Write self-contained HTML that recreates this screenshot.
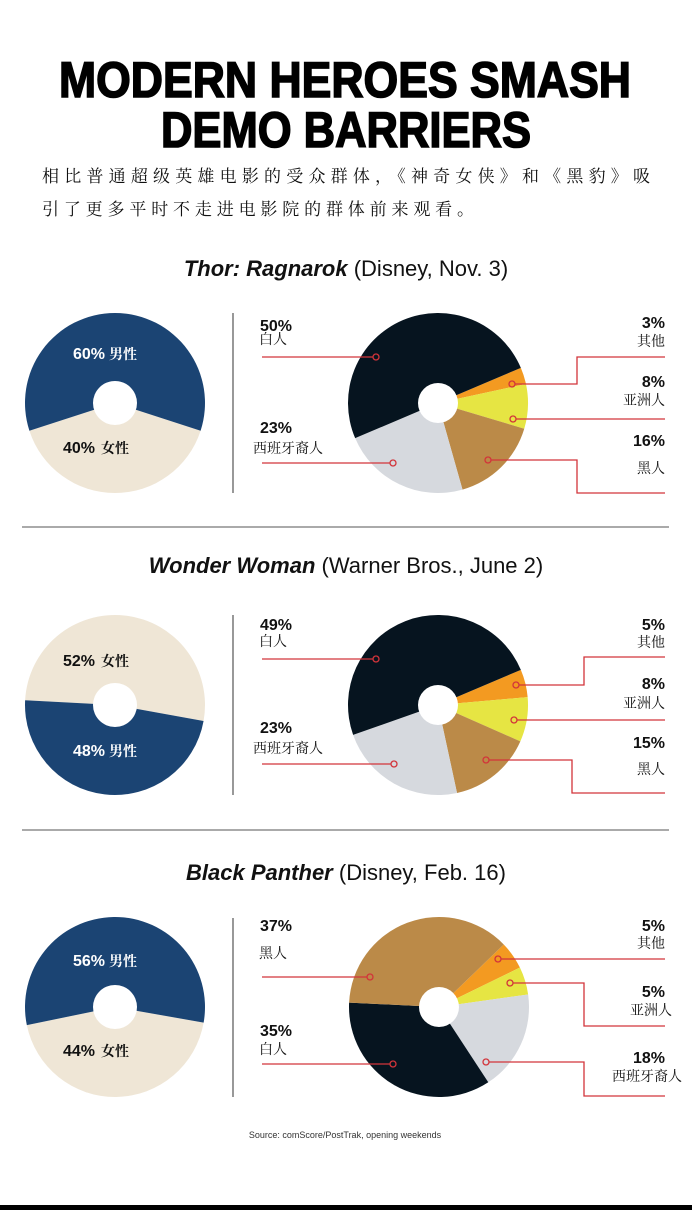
<!DOCTYPE html>
<html><head><meta charset="utf-8"><style>
html,body{margin:0;padding:0;background:#fff;}
svg{display:block;}
.t{font-family:"Liberation Sans","Noto Sans CJK SC",sans-serif;}
.p{font-family:"Liberation Sans",sans-serif;font-weight:bold;font-size:16px;fill:#111;}
.c{font-family:"Noto Serif CJK SC","Noto Sans CJK SC",serif;font-size:14px;fill:#111;}
.ln{stroke:#d2343a;stroke-width:1.3;fill:none;}
.dot{stroke:#d2343a;stroke-width:1.3;fill:none;}
</style></head><body>
<svg id="s" width="692" height="1210" viewBox="0 0 692 1210" xmlns="http://www.w3.org/2000/svg">
<rect width="692" height="1210" fill="#fff"/>
<g id="pies"></g>
<text x="345" y="97" text-anchor="middle" font-family="Liberation Sans" font-weight="bold" font-size="50" textLength="572" lengthAdjust="spacingAndGlyphs" fill="#000" stroke="#000" stroke-width="1.6">MODERN HEROES SMASH</text>
<text x="346" y="147" text-anchor="middle" font-family="Liberation Sans" font-weight="bold" font-size="50" textLength="370" lengthAdjust="spacingAndGlyphs" fill="#000" stroke="#000" stroke-width="1.6">DEMO BARRIERS</text>
<text x="42" y="182" font-family="Noto Serif CJK SC,Noto Sans CJK SC,serif" font-size="17" textLength="608" fill="#111">相比普通超级英雄电影的受众群体，《神奇女侠》和《黑豹》吸</text>
<text x="42" y="215" font-family="Noto Serif CJK SC,Noto Sans CJK SC,serif" font-size="17" textLength="432" fill="#111">引了更多平时不走进电影院的群体前来观看。</text>

<text x="346" y="276" text-anchor="middle" class="t" font-size="22" fill="#111"><tspan font-weight="bold" font-style="italic">Thor: Ragnarok</tspan> (Disney, Nov. 3)</text>
<text x="346" y="573" text-anchor="middle" class="t" font-size="22" fill="#111"><tspan font-weight="bold" font-style="italic">Wonder Woman</tspan> (Warner Bros., June 2)</text>
<text x="346" y="880" text-anchor="middle" class="t" font-size="22" fill="#111"><tspan font-weight="bold" font-style="italic">Black Panther</tspan> (Disney, Feb. 16)</text>

<line x1="22" y1="527" x2="669" y2="527" stroke="#555" stroke-width="1"/>
<line x1="22" y1="830" x2="669" y2="830" stroke="#555" stroke-width="1"/>
<line x1="233" y1="313" x2="233" y2="493" stroke="#555" stroke-width="1.2"/>
<line x1="233" y1="615" x2="233" y2="795" stroke="#555" stroke-width="1.2"/>
<line x1="233" y1="918" x2="233" y2="1097" stroke="#555" stroke-width="1.2"/>

<text x="73" y="359" class="p" style="fill:#fff">60%<tspan class="c" style="fill:#fff" dx="4">男性</tspan></text>
<text x="63" y="453" class="p">40%<tspan class="c" dx="6">女性</tspan></text>
<text x="63" y="666" class="p">52%<tspan class="c" dx="6">女性</tspan></text>
<text x="73" y="756" class="p" style="fill:#fff">48%<tspan class="c" style="fill:#fff" dx="4">男性</tspan></text>
<text x="73" y="966" class="p" style="fill:#fff">56%<tspan class="c" style="fill:#fff" dx="4">男性</tspan></text>
<text x="63" y="1056" class="p">44%<tspan class="c" dx="6">女性</tspan></text>

<text x="260" y="331" class="p">50%</text><text x="259" y="344" class="c">白人</text>
<path class="ln" d="M262 357H373"/><circle class="dot" cx="376" cy="357" r="3"/>
<text x="260" y="433" class="p">23%</text><text x="253" y="453" class="c">西班牙裔人</text>
<path class="ln" d="M262 463H390"/><circle class="dot" cx="393" cy="463" r="3"/>
<text x="665" y="328" class="p" text-anchor="end">3%</text><text x="665" y="346" class="c" text-anchor="end">其他</text>
<path class="ln" d="M665 357H577V384H515"/><circle class="dot" cx="512" cy="384" r="3"/>
<text x="665" y="387" class="p" text-anchor="end">8%</text><text x="665" y="405" class="c" text-anchor="end">亚洲人</text>
<path class="ln" d="M516 419H665"/><circle class="dot" cx="513" cy="419" r="3"/>
<text x="665" y="446" class="p" text-anchor="end">16%</text><text x="665" y="473" class="c" text-anchor="end">黑人</text>
<path class="ln" d="M491 460H577V493H665"/><circle class="dot" cx="488" cy="460" r="3"/>

<text x="260" y="630" class="p">49%</text><text x="259" y="646" class="c">白人</text>
<path class="ln" d="M262 659H373"/><circle class="dot" cx="376" cy="659" r="3"/>
<text x="260" y="733" class="p">23%</text><text x="253" y="753" class="c">西班牙裔人</text>
<path class="ln" d="M262 764H391"/><circle class="dot" cx="394" cy="764" r="3"/>
<text x="665" y="630" class="p" text-anchor="end">5%</text><text x="665" y="647" class="c" text-anchor="end">其他</text>
<path class="ln" d="M665 657H584V685H519"/><circle class="dot" cx="516" cy="685" r="3"/>
<text x="665" y="689" class="p" text-anchor="end">8%</text><text x="665" y="708" class="c" text-anchor="end">亚洲人</text>
<path class="ln" d="M517 720H665"/><circle class="dot" cx="514" cy="720" r="3"/>
<text x="665" y="748" class="p" text-anchor="end">15%</text><text x="665" y="774" class="c" text-anchor="end">黑人</text>
<path class="ln" d="M489 760H572V793H665"/><circle class="dot" cx="486" cy="760" r="3"/>

<text x="260" y="931" class="p">37%</text><text x="259" y="958" class="c">黑人</text>
<path class="ln" d="M262 977H367"/><circle class="dot" cx="370" cy="977" r="3"/>
<text x="260" y="1036" class="p">35%</text><text x="259" y="1054" class="c">白人</text>
<path class="ln" d="M262 1064H390"/><circle class="dot" cx="393" cy="1064" r="3"/>
<text x="665" y="931" class="p" text-anchor="end">5%</text><text x="665" y="948" class="c" text-anchor="end">其他</text>
<path class="ln" d="M501 959H665"/><circle class="dot" cx="498" cy="959" r="3"/>
<text x="665" y="997" class="p" text-anchor="end">5%</text><text x="672" y="1015" class="c" text-anchor="end">亚洲人</text>
<path class="ln" d="M513 983H584V1026H665"/><circle class="dot" cx="510" cy="983" r="3"/>
<text x="665" y="1063" class="p" text-anchor="end">18%</text><text x="682" y="1081" class="c" text-anchor="end">西班牙裔人</text>
<path class="ln" d="M489 1062H584V1096H665"/><circle class="dot" cx="486" cy="1062" r="3"/>

<text x="345" y="1138" text-anchor="middle" font-family="Liberation Sans" font-size="9" fill="#333">Source: comScore/PostTrak, opening weekends</text>
<rect x="0" y="1205" width="692" height="5" fill="#000"/>
</svg>
<script>
var NS="http://www.w3.org/2000/svg",g=document.getElementById("pies");
function pie(cx,cy,r,start,segs,hole){
  var a=start;
  segs.forEach(function(s){
    var d=s[0]*3.6,a1=a*Math.PI/180,a2=(a+d)*Math.PI/180;
    var x1=cx+r*Math.cos(a1),y1=cy+r*Math.sin(a1),x2=cx+r*Math.cos(a2),y2=cy+r*Math.sin(a2);
    var p=document.createElementNS(NS,"path");
    p.setAttribute("d","M"+cx+" "+cy+"L"+x1+" "+y1+"A"+r+" "+r+" 0 "+(d>180?1:0)+" 1 "+x2+" "+y2+"Z");
    p.setAttribute("fill",s[1]);g.appendChild(p);a+=d;
  });
  var c=document.createElementNS(NS,"circle");
  c.setAttribute("cx",cx);c.setAttribute("cy",cy);c.setAttribute("r",hole);c.setAttribute("fill","#fff");g.appendChild(c);
}
var NV="#1b4473",BG="#efe6d6",BK="#06141f",GR="#d6d9de",BR="#bb8a48",YE="#e6e543",OR="#f39a21";
pie(115,403,90,18,[[40,BG],[60,NV]],22);
pie(438,403,90,-23,[[3,OR],[8,YE],[16,BR],[23,GR],[50,BK]],20);
pie(115,705,90,183,[[52,BG],[48,NV]],22);
pie(438,705,90,-23,[[5,OR],[8,YE],[15,BR],[23,GR],[49,BK]],20);
pie(115,1007,90,10,[[44,BG],[56,NV]],22);
pie(439,1007,90,-44,[[5,OR],[5,YE],[18,GR],[35,BK],[37,BR]],20);
</script>
</body></html>
